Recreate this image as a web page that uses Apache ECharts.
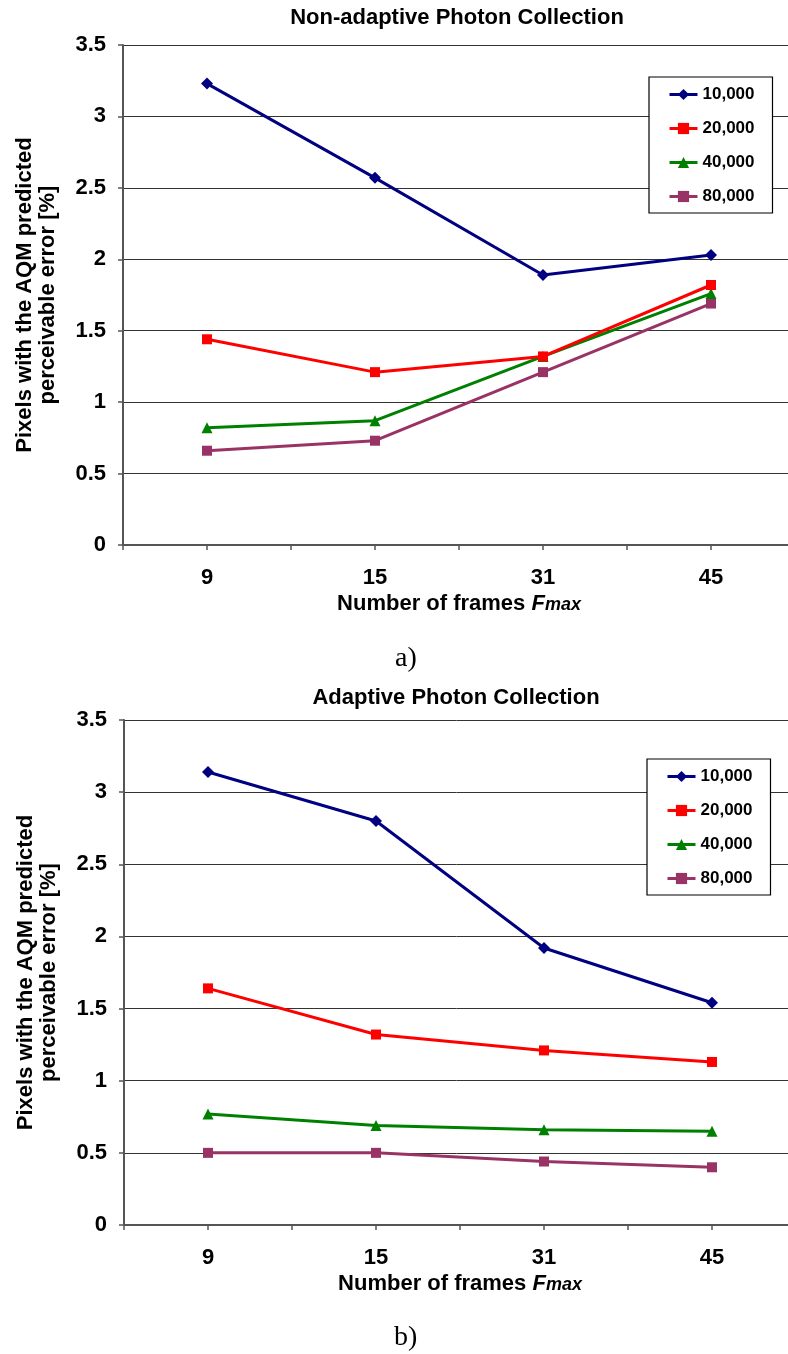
<!DOCTYPE html>
<html>
<head>
<meta charset="utf-8">
<script src="https://cdn.jsdelivr.net/npm/echarts@6/dist/echarts.min.js"></script>
<style>
  html, body { margin: 0; padding: 0; background: #fff; }
  #chart { width: 788px; height: 1354px; }
</style>
</head>
<body>
<div id="chart"></div>
<script>
// ---- data ----
const categories = ['9', '15', '31', '45'];
const seriesNames = ['10,000', '20,000', '40,000', '80,000'];
const titleTop = 'Non-adaptive Photon Collection';
const titleBottom = 'Adaptive Photon Collection';
const yTickMin = 0, yTickMax = 3.5, yTickStep = 0.5;

const nonAdaptive10k = [3.23, 2.57, 1.89, 2.03];
const nonAdaptive20k = [1.44, 1.21, 1.32, 1.82];
const nonAdaptive40k = [0.82, 0.87, 1.32, 1.76];
const nonAdaptive80k = [0.66, 0.73, 1.21, 1.69];

const adaptive10k = [3.14, 2.80, 1.92, 1.54];
const adaptive20k = [1.64, 1.32, 1.21, 1.13];
const adaptive40k = [0.77, 0.69, 0.66, 0.65];
const adaptive80k = [0.50, 0.50, 0.44, 0.40];

// ---- styles ----
const FONT = "'Liberation Sans', Arial, Helvetica, sans-serif";
const colors = ['#000080', '#FF0000', '#008000', '#993366'];
const symbols = ['diamond', 'rect', 'triangle', 'rect'];
const symbolSizes = [12, 10, 11, 10];

// category i sits at the middle of its slot on a 0..8 axis
const slotOf = i => 2 * i + 1;
const toPoints = arr => arr.map((v, i) => [slotOf(i), v]);

function xAxis(gridIndex) {
  return {
    type: 'value', gridIndex, min: 0, max: 2 * categories.length, interval: 1,
    axisLine: { show: true, onZero: false, lineStyle: { color: '#555', width: 2 } },
    axisTick: { show: true, length: 5, inside: false, lineStyle: { color: '#555', width: 1.5 } },
    splitLine: { show: false },
    axisLabel: {
      margin: 22, fontSize: 22, fontWeight: 'bold', color: '#000', fontFamily: FONT,
      formatter: v => (v % 2 === 1 ? categories[(v - 1) / 2] : '')
    },
    name: '{a|Number of frames }{b|F}{c|max}',
    nameLocation: 'middle', nameGap: 48,
    nameTextStyle: {
      rich: {
        a: { fontSize: 22, fontWeight: 'bold', fontFamily: FONT, color: '#000' },
        b: { fontSize: 22, fontWeight: 'bold', fontStyle: 'italic', fontFamily: FONT, color: '#000' },
        c: { fontSize: 18, fontWeight: 'bold', fontStyle: 'italic', fontFamily: FONT, color: '#000', padding: [3, 0, 0, 0] }
      }
    }
  };
}
function yAxis(gridIndex) {
  return {
    type: 'value', gridIndex, min: yTickMin, max: yTickMax, interval: yTickStep,
    axisLine: { show: true, lineStyle: { color: '#555', width: 2 } },
    axisTick: { show: true, length: 5, lineStyle: { color: '#555', width: 1.5 } },
    splitLine: { show: true, lineStyle: { color: '#333', width: 1 } },
    axisLabel: { margin: 17, fontSize: 22, fontWeight: 'bold', color: '#000', fontFamily: FONT },
    name: 'Pixels with the AQM predicted\nperceivable error [%]',
    nameLocation: 'middle', nameGap: 64, nameRotate: 90,
    nameTextStyle: { fontSize: 22, fontWeight: 'bold', color: '#000', fontFamily: FONT, lineHeight: 23, align: 'center' }
  };
}
function legend(left, top) {
  return {
    orient: 'vertical', left, top,
    data: seriesNames,
    backgroundColor: '#fff', borderColor: '#000', borderWidth: 1.2,
    padding: [7, 18, 6, 19], itemGap: 13, itemWidth: 28, itemHeight: 14,
    lineStyle: { width: 3 },
    textStyle: { fontSize: 17, fontWeight: 'bold', color: '#000', fontFamily: FONT, lineHeight: 21 },
    selectedMode: false
  };
}
function makeSeries(dataArrays, axisIndex) {
  return dataArrays.map((arr, k) => ({
    name: seriesNames[k], type: 'line',
    xAxisIndex: axisIndex, yAxisIndex: axisIndex,
    data: toPoints(arr),
    symbol: symbols[k], symbolSize: symbolSizes[k],
    lineStyle: { color: colors[k], width: 3 },
    itemStyle: { color: colors[k] },
    z: 10 - k, animation: false
  }));
}

const chart = echarts.init(document.getElementById('chart'), null, { renderer: 'canvas' });
chart.setOption({
  backgroundColor: '#fff',
  animation: false,
  title: [
    { text: titleTop, left: 457, top: 7, textAlign: 'center', padding: 0,
      textStyle: { fontSize: 22, fontWeight: 'bold', color: '#000', fontFamily: FONT } },
    { text: titleBottom, left: 456, top: 687, textAlign: 'center', padding: 0,
      textStyle: { fontSize: 22, fontWeight: 'bold', color: '#000', fontFamily: FONT } }
  ],
  grid: [
    { left: 123, top: 45, width: 672, height: 500, containLabel: false, outerBoundsMode: 'none' },
    { left: 124, top: 720, width: 672, height: 505, containLabel: false, outerBoundsMode: 'none' }
  ],
  xAxis: [xAxis(0), xAxis(1)],
  yAxis: [yAxis(0), yAxis(1)],
  legend: [legend(649, 77), legend(647, 759)],
  graphic: [
    { type: 'text', left: 395, top: 645, style: { text: 'a)', fontSize: 28, fontFamily: "'Liberation Serif', 'Times New Roman', serif", fill: '#000' } },
    { type: 'text', left: 394, top: 1324, style: { text: 'b)', fontSize: 28, fontFamily: "'Liberation Serif', 'Times New Roman', serif", fill: '#000' } }
  ],
  series: [
    ...makeSeries([nonAdaptive10k, nonAdaptive20k, nonAdaptive40k, nonAdaptive80k], 0),
    ...makeSeries([adaptive10k, adaptive20k, adaptive40k, adaptive80k], 1)
  ]
});
</script>
</body>
</html>
